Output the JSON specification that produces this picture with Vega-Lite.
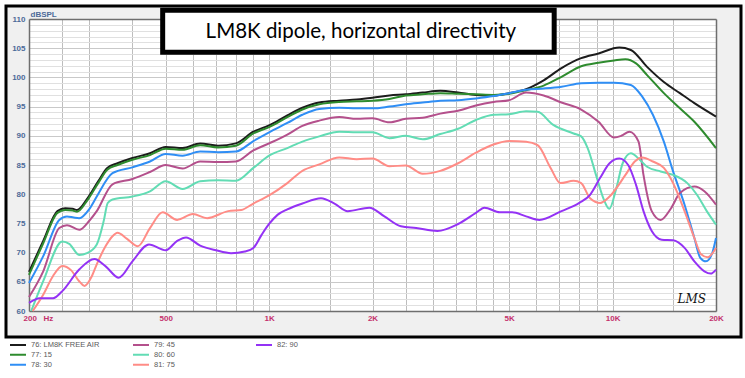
{
  "$schema": "https://vega.github.io/schema/vega-lite/v6.json",
  "background": "#ffffff",
  "padding": {"left": 4, "top": 4, "right": 3, "bottom": 3},
  "spacing": 1,
  "config": {
    "view": {"fill": "#f0f0f0", "stroke": "#000000", "strokeWidth": 3},
    "axis": {"labelFont": "Liberation Sans", "titleFont": "Liberation Sans"}
  },
  "datasets": {
    "curves": [
      {"series": "76: LM8K FREE AIR", "freq": 200, "spl": 66.7}, {"series": "76: LM8K FREE AIR", "freq": 220, "spl": 72.0}, {"series": "76: LM8K FREE AIR", "freq": 242, "spl": 77.1}, {"series": "76: LM8K FREE AIR", "freq": 255, "spl": 77.6}, {"series": "76: LM8K FREE AIR", "freq": 268, "spl": 77.5}, {"series": "76: LM8K FREE AIR", "freq": 276, "spl": 77.3}, {"series": "76: LM8K FREE AIR", "freq": 296, "spl": 79.3}, {"series": "76: LM8K FREE AIR", "freq": 318, "spl": 82.2}, {"series": "76: LM8K FREE AIR", "freq": 338, "spl": 84.5}, {"series": "76: LM8K FREE AIR", "freq": 362, "spl": 85.3}, {"series": "76: LM8K FREE AIR", "freq": 400, "spl": 86.2}, {"series": "76: LM8K FREE AIR", "freq": 450, "spl": 87.0}, {"series": "76: LM8K FREE AIR", "freq": 500, "spl": 88.1}, {"series": "76: LM8K FREE AIR", "freq": 560, "spl": 87.9}, {"series": "76: LM8K FREE AIR", "freq": 630, "spl": 88.7}, {"series": "76: LM8K FREE AIR", "freq": 710, "spl": 88.3}, {"series": "76: LM8K FREE AIR", "freq": 800, "spl": 88.7}, {"series": "76: LM8K FREE AIR", "freq": 900, "spl": 90.7}, {"series": "76: LM8K FREE AIR", "freq": 1000, "spl": 91.8}, {"series": "76: LM8K FREE AIR", "freq": 1130, "spl": 93.5}, {"series": "76: LM8K FREE AIR", "freq": 1250, "spl": 94.8}, {"series": "76: LM8K FREE AIR", "freq": 1400, "spl": 95.7}, {"series": "76: LM8K FREE AIR", "freq": 1600, "spl": 96.0}, {"series": "76: LM8K FREE AIR", "freq": 1800, "spl": 96.2}, {"series": "76: LM8K FREE AIR", "freq": 2000, "spl": 96.5}, {"series": "76: LM8K FREE AIR", "freq": 2240, "spl": 96.9}, {"series": "76: LM8K FREE AIR", "freq": 2500, "spl": 97.1}, {"series": "76: LM8K FREE AIR", "freq": 2800, "spl": 97.4}, {"series": "76: LM8K FREE AIR", "freq": 3150, "spl": 97.7}, {"series": "76: LM8K FREE AIR", "freq": 3550, "spl": 97.4}, {"series": "76: LM8K FREE AIR", "freq": 4000, "spl": 97.0}, {"series": "76: LM8K FREE AIR", "freq": 4500, "spl": 96.9}, {"series": "76: LM8K FREE AIR", "freq": 5000, "spl": 97.3}, {"series": "76: LM8K FREE AIR", "freq": 5600, "spl": 98.0}, {"series": "76: LM8K FREE AIR", "freq": 6300, "spl": 99.5}, {"series": "76: LM8K FREE AIR", "freq": 7100, "spl": 101.6}, {"series": "76: LM8K FREE AIR", "freq": 8100, "spl": 103.3}, {"series": "76: LM8K FREE AIR", "freq": 9100, "spl": 104.1}, {"series": "76: LM8K FREE AIR", "freq": 10460, "spl": 105.1}, {"series": "76: LM8K FREE AIR", "freq": 11300, "spl": 104.7}, {"series": "76: LM8K FREE AIR", "freq": 12600, "spl": 101.8}, {"series": "76: LM8K FREE AIR", "freq": 14100, "spl": 99.2}, {"series": "76: LM8K FREE AIR", "freq": 15700, "spl": 97.3}, {"series": "76: LM8K FREE AIR", "freq": 17300, "spl": 95.6}, {"series": "76: LM8K FREE AIR", "freq": 20000, "spl": 93.3},
      {"series": "77: 15", "freq": 200, "spl": 66.2}, {"series": "77: 15", "freq": 220, "spl": 71.6}, {"series": "77: 15", "freq": 242, "spl": 76.8}, {"series": "77: 15", "freq": 255, "spl": 77.3}, {"series": "77: 15", "freq": 268, "spl": 77.2}, {"series": "77: 15", "freq": 276, "spl": 77.0}, {"series": "77: 15", "freq": 296, "spl": 79.0}, {"series": "77: 15", "freq": 318, "spl": 81.9}, {"series": "77: 15", "freq": 338, "spl": 84.2}, {"series": "77: 15", "freq": 362, "spl": 85.0}, {"series": "77: 15", "freq": 400, "spl": 85.9}, {"series": "77: 15", "freq": 450, "spl": 86.7}, {"series": "77: 15", "freq": 500, "spl": 87.8}, {"series": "77: 15", "freq": 560, "spl": 87.6}, {"series": "77: 15", "freq": 630, "spl": 88.4}, {"series": "77: 15", "freq": 710, "spl": 88.0}, {"series": "77: 15", "freq": 800, "spl": 88.3}, {"series": "77: 15", "freq": 900, "spl": 90.4}, {"series": "77: 15", "freq": 1000, "spl": 91.5}, {"series": "77: 15", "freq": 1130, "spl": 93.2}, {"series": "77: 15", "freq": 1250, "spl": 94.5}, {"series": "77: 15", "freq": 1400, "spl": 95.4}, {"series": "77: 15", "freq": 1600, "spl": 95.8}, {"series": "77: 15", "freq": 1800, "spl": 95.9}, {"series": "77: 15", "freq": 2000, "spl": 96.0}, {"series": "77: 15", "freq": 2240, "spl": 96.3}, {"series": "77: 15", "freq": 2500, "spl": 96.9}, {"series": "77: 15", "freq": 2800, "spl": 97.1}, {"series": "77: 15", "freq": 3150, "spl": 97.3}, {"series": "77: 15", "freq": 3550, "spl": 97.2}, {"series": "77: 15", "freq": 4000, "spl": 97.1}, {"series": "77: 15", "freq": 4500, "spl": 97.0}, {"series": "77: 15", "freq": 5000, "spl": 97.2}, {"series": "77: 15", "freq": 5600, "spl": 97.8}, {"series": "77: 15", "freq": 6300, "spl": 98.6}, {"series": "77: 15", "freq": 7100, "spl": 100.1}, {"series": "77: 15", "freq": 8100, "spl": 101.9}, {"series": "77: 15", "freq": 9100, "spl": 102.5}, {"series": "77: 15", "freq": 10100, "spl": 102.9}, {"series": "77: 15", "freq": 10900, "spl": 103.1}, {"series": "77: 15", "freq": 11700, "spl": 102.4}, {"series": "77: 15", "freq": 12600, "spl": 100.4}, {"series": "77: 15", "freq": 14100, "spl": 97.3}, {"series": "77: 15", "freq": 15700, "spl": 94.7}, {"series": "77: 15", "freq": 17300, "spl": 92.4}, {"series": "77: 15", "freq": 20000, "spl": 87.9},
      {"series": "78: 30", "freq": 200, "spl": 64.8}, {"series": "78: 30", "freq": 220, "spl": 69.4}, {"series": "78: 30", "freq": 245, "spl": 75.6}, {"series": "78: 30", "freq": 258, "spl": 76.2}, {"series": "78: 30", "freq": 270, "spl": 76.0}, {"series": "78: 30", "freq": 280, "spl": 75.9}, {"series": "78: 30", "freq": 300, "spl": 77.5}, {"series": "78: 30", "freq": 315, "spl": 79.6}, {"series": "78: 30", "freq": 350, "spl": 83.6}, {"series": "78: 30", "freq": 400, "spl": 84.6}, {"series": "78: 30", "freq": 450, "spl": 85.6}, {"series": "78: 30", "freq": 500, "spl": 86.9}, {"series": "78: 30", "freq": 560, "spl": 86.6}, {"series": "78: 30", "freq": 630, "spl": 87.3}, {"series": "78: 30", "freq": 710, "spl": 87.2}, {"series": "78: 30", "freq": 800, "spl": 87.3}, {"series": "78: 30", "freq": 900, "spl": 89.1}, {"series": "78: 30", "freq": 1000, "spl": 90.6}, {"series": "78: 30", "freq": 1130, "spl": 92.2}, {"series": "78: 30", "freq": 1250, "spl": 93.6}, {"series": "78: 30", "freq": 1400, "spl": 94.6}, {"series": "78: 30", "freq": 1600, "spl": 94.8}, {"series": "78: 30", "freq": 1800, "spl": 94.7}, {"series": "78: 30", "freq": 2000, "spl": 94.7}, {"series": "78: 30", "freq": 2240, "spl": 95.0}, {"series": "78: 30", "freq": 2500, "spl": 95.4}, {"series": "78: 30", "freq": 2800, "spl": 95.7}, {"series": "78: 30", "freq": 3150, "spl": 96.0}, {"series": "78: 30", "freq": 3550, "spl": 96.1}, {"series": "78: 30", "freq": 4000, "spl": 96.4}, {"series": "78: 30", "freq": 4500, "spl": 96.8}, {"series": "78: 30", "freq": 5000, "spl": 97.3}, {"series": "78: 30", "freq": 5600, "spl": 97.9}, {"series": "78: 30", "freq": 6300, "spl": 98.1}, {"series": "78: 30", "freq": 7100, "spl": 98.4}, {"series": "78: 30", "freq": 8100, "spl": 99.0}, {"series": "78: 30", "freq": 9100, "spl": 99.1}, {"series": "78: 30", "freq": 10100, "spl": 99.1}, {"series": "78: 30", "freq": 11300, "spl": 98.7}, {"series": "78: 30", "freq": 12200, "spl": 96.7}, {"series": "78: 30", "freq": 13100, "spl": 93.6}, {"series": "78: 30", "freq": 14100, "spl": 89.0}, {"series": "78: 30", "freq": 15000, "spl": 83.9}, {"series": "78: 30", "freq": 16200, "spl": 78.2}, {"series": "78: 30", "freq": 17300, "spl": 72.5}, {"series": "78: 30", "freq": 18000, "spl": 69.1}, {"series": "78: 30", "freq": 18700, "spl": 68.5}, {"series": "78: 30", "freq": 19500, "spl": 69.9}, {"series": "78: 30", "freq": 20000, "spl": 72.5},
      {"series": "79: 45", "freq": 200, "spl": 62.4}, {"series": "79: 45", "freq": 220, "spl": 66.8}, {"series": "79: 45", "freq": 245, "spl": 74.2}, {"series": "79: 45", "freq": 258, "spl": 74.7}, {"series": "79: 45", "freq": 280, "spl": 73.9}, {"series": "79: 45", "freq": 300, "spl": 75.5}, {"series": "79: 45", "freq": 315, "spl": 77.1}, {"series": "79: 45", "freq": 350, "spl": 81.7}, {"series": "79: 45", "freq": 400, "spl": 82.6}, {"series": "79: 45", "freq": 450, "spl": 83.8}, {"series": "79: 45", "freq": 500, "spl": 85.0}, {"series": "79: 45", "freq": 560, "spl": 84.4}, {"series": "79: 45", "freq": 630, "spl": 85.6}, {"series": "79: 45", "freq": 710, "spl": 85.5}, {"series": "79: 45", "freq": 800, "spl": 85.6}, {"series": "79: 45", "freq": 900, "spl": 87.5}, {"series": "79: 45", "freq": 1000, "spl": 88.7}, {"series": "79: 45", "freq": 1130, "spl": 90.2}, {"series": "79: 45", "freq": 1250, "spl": 91.7}, {"series": "79: 45", "freq": 1400, "spl": 92.6}, {"series": "79: 45", "freq": 1600, "spl": 93.2}, {"series": "79: 45", "freq": 1800, "spl": 92.9}, {"series": "79: 45", "freq": 2000, "spl": 93.0}, {"series": "79: 45", "freq": 2240, "spl": 92.3}, {"series": "79: 45", "freq": 2500, "spl": 92.9}, {"series": "79: 45", "freq": 2800, "spl": 93.1}, {"series": "79: 45", "freq": 3150, "spl": 93.8}, {"series": "79: 45", "freq": 3550, "spl": 94.3}, {"series": "79: 45", "freq": 4000, "spl": 95.2}, {"series": "79: 45", "freq": 4500, "spl": 95.8}, {"series": "79: 45", "freq": 5000, "spl": 96.1}, {"series": "79: 45", "freq": 5600, "spl": 97.4}, {"series": "79: 45", "freq": 6300, "spl": 96.9}, {"series": "79: 45", "freq": 7100, "spl": 95.7}, {"series": "79: 45", "freq": 8100, "spl": 94.5}, {"series": "79: 45", "freq": 9100, "spl": 92.4}, {"series": "79: 45", "freq": 10100, "spl": 89.7}, {"series": "79: 45", "freq": 10600, "spl": 90.0}, {"series": "79: 45", "freq": 11200, "spl": 90.7}, {"series": "79: 45", "freq": 11900, "spl": 89.0}, {"series": "79: 45", "freq": 12300, "spl": 83.3}, {"series": "79: 45", "freq": 13000, "spl": 77.1}, {"series": "79: 45", "freq": 13800, "spl": 75.6}, {"series": "79: 45", "freq": 14800, "spl": 77.6}, {"series": "79: 45", "freq": 15700, "spl": 80.2}, {"series": "79: 45", "freq": 17300, "spl": 81.3}, {"series": "79: 45", "freq": 18500, "spl": 80.5}, {"series": "79: 45", "freq": 20000, "spl": 78.2},
      {"series": "80: 60", "freq": 203, "spl": 60.0}, {"series": "80: 60", "freq": 220, "spl": 65.1}, {"series": "80: 60", "freq": 250, "spl": 71.9}, {"series": "80: 60", "freq": 262, "spl": 71.5}, {"series": "80: 60", "freq": 280, "spl": 69.6}, {"series": "80: 60", "freq": 295, "spl": 69.9}, {"series": "80: 60", "freq": 315, "spl": 71.4}, {"series": "80: 60", "freq": 330, "spl": 75.4}, {"series": "80: 60", "freq": 339, "spl": 78.5}, {"series": "80: 60", "freq": 350, "spl": 79.1}, {"series": "80: 60", "freq": 400, "spl": 79.6}, {"series": "80: 60", "freq": 450, "spl": 80.5}, {"series": "80: 60", "freq": 500, "spl": 82.2}, {"series": "80: 60", "freq": 560, "spl": 80.9}, {"series": "80: 60", "freq": 630, "spl": 82.2}, {"series": "80: 60", "freq": 710, "spl": 82.4}, {"series": "80: 60", "freq": 800, "spl": 82.3}, {"series": "80: 60", "freq": 900, "spl": 84.5}, {"series": "80: 60", "freq": 1000, "spl": 86.6}, {"series": "80: 60", "freq": 1130, "spl": 87.9}, {"series": "80: 60", "freq": 1250, "spl": 89.0}, {"series": "80: 60", "freq": 1400, "spl": 89.9}, {"series": "80: 60", "freq": 1600, "spl": 90.7}, {"series": "80: 60", "freq": 1800, "spl": 90.6}, {"series": "80: 60", "freq": 2000, "spl": 90.6}, {"series": "80: 60", "freq": 2240, "spl": 89.6}, {"series": "80: 60", "freq": 2500, "spl": 90.0}, {"series": "80: 60", "freq": 2800, "spl": 89.4}, {"series": "80: 60", "freq": 3150, "spl": 90.3}, {"series": "80: 60", "freq": 3550, "spl": 91.2}, {"series": "80: 60", "freq": 4000, "spl": 92.7}, {"series": "80: 60", "freq": 4500, "spl": 93.6}, {"series": "80: 60", "freq": 5000, "spl": 93.7}, {"series": "80: 60", "freq": 5600, "spl": 94.2}, {"series": "80: 60", "freq": 6050, "spl": 94.1}, {"series": "80: 60", "freq": 6700, "spl": 91.9}, {"series": "80: 60", "freq": 7700, "spl": 90.4}, {"series": "80: 60", "freq": 8100, "spl": 89.9}, {"series": "80: 60", "freq": 8460, "spl": 87.9}, {"series": "80: 60", "freq": 9000, "spl": 82.8}, {"series": "80: 60", "freq": 9400, "spl": 79.3}, {"series": "80: 60", "freq": 9780, "spl": 77.5}, {"series": "80: 60", "freq": 10250, "spl": 81.0}, {"series": "80: 60", "freq": 10700, "spl": 85.3}, {"series": "80: 60", "freq": 11300, "spl": 87.0}, {"series": "80: 60", "freq": 12000, "spl": 85.9}, {"series": "80: 60", "freq": 12600, "spl": 84.7}, {"series": "80: 60", "freq": 13800, "spl": 83.9}, {"series": "80: 60", "freq": 15000, "spl": 83.3}, {"series": "80: 60", "freq": 16500, "spl": 81.9}, {"series": "80: 60", "freq": 17600, "spl": 79.9}, {"series": "80: 60", "freq": 18800, "spl": 77.1}, {"series": "80: 60", "freq": 20000, "spl": 74.8},
      {"series": "81: 75", "freq": 205, "spl": 60.0}, {"series": "81: 75", "freq": 220, "spl": 62.8}, {"series": "81: 75", "freq": 235, "spl": 66.0}, {"series": "81: 75", "freq": 250, "spl": 67.7}, {"series": "81: 75", "freq": 265, "spl": 67.0}, {"series": "81: 75", "freq": 280, "spl": 65.1}, {"series": "81: 75", "freq": 290, "spl": 64.3}, {"series": "81: 75", "freq": 305, "spl": 66.0}, {"series": "81: 75", "freq": 315, "spl": 68.0}, {"series": "81: 75", "freq": 335, "spl": 71.2}, {"series": "81: 75", "freq": 350, "spl": 72.8}, {"series": "81: 75", "freq": 362, "spl": 73.4}, {"series": "81: 75", "freq": 385, "spl": 72.4}, {"series": "81: 75", "freq": 415, "spl": 71.1}, {"series": "81: 75", "freq": 450, "spl": 74.2}, {"series": "81: 75", "freq": 490, "spl": 76.9}, {"series": "81: 75", "freq": 540, "spl": 75.6}, {"series": "81: 75", "freq": 600, "spl": 76.6}, {"series": "81: 75", "freq": 660, "spl": 75.9}, {"series": "81: 75", "freq": 760, "spl": 77.1}, {"series": "81: 75", "freq": 830, "spl": 77.3}, {"series": "81: 75", "freq": 900, "spl": 78.4}, {"series": "81: 75", "freq": 1000, "spl": 79.8}, {"series": "81: 75", "freq": 1130, "spl": 81.9}, {"series": "81: 75", "freq": 1250, "spl": 84.0}, {"series": "81: 75", "freq": 1400, "spl": 85.1}, {"series": "81: 75", "freq": 1600, "spl": 86.3}, {"series": "81: 75", "freq": 1800, "spl": 86.0}, {"series": "81: 75", "freq": 2000, "spl": 86.1}, {"series": "81: 75", "freq": 2240, "spl": 84.8}, {"series": "81: 75", "freq": 2500, "spl": 84.9}, {"series": "81: 75", "freq": 2800, "spl": 83.5}, {"series": "81: 75", "freq": 3150, "spl": 84.0}, {"series": "81: 75", "freq": 3550, "spl": 85.3}, {"series": "81: 75", "freq": 4000, "spl": 87.1}, {"series": "81: 75", "freq": 4500, "spl": 88.5}, {"series": "81: 75", "freq": 5000, "spl": 89.1}, {"series": "81: 75", "freq": 5600, "spl": 89.0}, {"series": "81: 75", "freq": 6050, "spl": 88.4}, {"series": "81: 75", "freq": 6600, "spl": 84.5}, {"series": "81: 75", "freq": 7050, "spl": 81.9}, {"series": "81: 75", "freq": 7700, "spl": 82.3}, {"series": "81: 75", "freq": 8100, "spl": 81.9}, {"series": "81: 75", "freq": 8600, "spl": 79.3}, {"series": "81: 75", "freq": 9200, "spl": 78.5}, {"series": "81: 75", "freq": 9800, "spl": 79.6}, {"series": "81: 75", "freq": 10900, "spl": 83.3}, {"series": "81: 75", "freq": 11600, "spl": 85.6}, {"series": "81: 75", "freq": 12200, "spl": 86.3}, {"series": "81: 75", "freq": 13100, "spl": 85.6}, {"series": "81: 75", "freq": 14100, "spl": 84.5}, {"series": "81: 75", "freq": 15000, "spl": 81.9}, {"series": "81: 75", "freq": 16200, "spl": 77.1}, {"series": "81: 75", "freq": 17300, "spl": 72.5}, {"series": "81: 75", "freq": 18100, "spl": 69.7}, {"series": "81: 75", "freq": 18900, "spl": 69.2}, {"series": "81: 75", "freq": 20000, "spl": 70.8},
      {"series": "82: 90", "freq": 200, "spl": 61.4}, {"series": "82: 90", "freq": 215, "spl": 62.2}, {"series": "82: 90", "freq": 235, "spl": 62.2}, {"series": "82: 90", "freq": 250, "spl": 63.4}, {"series": "82: 90", "freq": 280, "spl": 67.1}, {"series": "82: 90", "freq": 310, "spl": 68.9}, {"series": "82: 90", "freq": 335, "spl": 67.6}, {"series": "82: 90", "freq": 365, "spl": 65.7}, {"series": "82: 90", "freq": 400, "spl": 68.5}, {"series": "82: 90", "freq": 447, "spl": 71.4}, {"series": "82: 90", "freq": 500, "spl": 70.4}, {"series": "82: 90", "freq": 540, "spl": 72.0}, {"series": "82: 90", "freq": 573, "spl": 72.6}, {"series": "82: 90", "freq": 630, "spl": 71.2}, {"series": "82: 90", "freq": 700, "spl": 70.4}, {"series": "82: 90", "freq": 775, "spl": 69.9}, {"series": "82: 90", "freq": 850, "spl": 70.2}, {"series": "82: 90", "freq": 900, "spl": 70.8}, {"series": "82: 90", "freq": 950, "spl": 73.0}, {"series": "82: 90", "freq": 1000, "spl": 74.9}, {"series": "82: 90", "freq": 1060, "spl": 76.5}, {"series": "82: 90", "freq": 1130, "spl": 77.4}, {"series": "82: 90", "freq": 1250, "spl": 78.4}, {"series": "82: 90", "freq": 1416, "spl": 79.3}, {"series": "82: 90", "freq": 1550, "spl": 78.4}, {"series": "82: 90", "freq": 1694, "spl": 77.1}, {"series": "82: 90", "freq": 1957, "spl": 77.7}, {"series": "82: 90", "freq": 2166, "spl": 76.2}, {"series": "82: 90", "freq": 2420, "spl": 74.5}, {"series": "82: 90", "freq": 2680, "spl": 74.2}, {"series": "82: 90", "freq": 3090, "spl": 73.7}, {"series": "82: 90", "freq": 3550, "spl": 74.9}, {"series": "82: 90", "freq": 4000, "spl": 76.8}, {"series": "82: 90", "freq": 4235, "spl": 77.7}, {"series": "82: 90", "freq": 4700, "spl": 76.9}, {"series": "82: 90", "freq": 5100, "spl": 76.9}, {"series": "82: 90", "freq": 5600, "spl": 76.2}, {"series": "82: 90", "freq": 6120, "spl": 75.6}, {"series": "82: 90", "freq": 7100, "spl": 77.1}, {"series": "82: 90", "freq": 8000, "spl": 78.5}, {"series": "82: 90", "freq": 8600, "spl": 79.9}, {"series": "82: 90", "freq": 9200, "spl": 82.8}, {"series": "82: 90", "freq": 9800, "spl": 85.3}, {"series": "82: 90", "freq": 10460, "spl": 86.1}, {"series": "82: 90", "freq": 11100, "spl": 85.0}, {"series": "82: 90", "freq": 11700, "spl": 81.6}, {"series": "82: 90", "freq": 12300, "spl": 77.1}, {"series": "82: 90", "freq": 13000, "spl": 73.7}, {"series": "82: 90", "freq": 13900, "spl": 72.2}, {"series": "82: 90", "freq": 15000, "spl": 72.1}, {"series": "82: 90", "freq": 16200, "spl": 70.8}, {"series": "82: 90", "freq": 17300, "spl": 68.5}, {"series": "82: 90", "freq": 18500, "spl": 66.8}, {"series": "82: 90", "freq": 19300, "spl": 66.4}, {"series": "82: 90", "freq": 20000, "spl": 67.1}
    ]
  },
  "vconcat": [
    {
      "width": 735,
      "height": 331,
      "resolve": {"axis": {"x": "independent", "y": "independent"}},
      "layer": [
        {
          "data": {"values": [{}]},
          "mark": {"type": "rect", "fill": "#ffffff", "stroke": "#000000", "strokeWidth": 5},
          "encoding": {
            "x": {
              "datum": 490, "type": "quantitative",
              "scale": {"type": "log", "domain": [200, 20000], "range": [23, 710], "nice": false},
              "axis": {"orient": "top", "values": [2000], "grid": true, "gridColor": "#ffffff", "gridWidth": 687, "gridOpacity": 1, "domain": false, "ticks": false, "labels": false, "title": null}
            },
            "x2": {"datum": 6760},
            "y": {
              "datum": 111.5, "type": "quantitative",
              "scale": {"domain": [60, 110], "range": [305, 13], "nice": false, "zero": false},
              "axis": {"orient": "right", "offset": -25, "grid": false, "domain": true, "domainColor": "#6e6e6e", "domainWidth": 1.5, "ticks": false, "labels": false, "title": null}
            },
            "y2": {"datum": 104.3}
          }
        },
        {
          "data": {"values": [{}]},
          "mark": {"type": "text", "text": "LM8K dipole, horizontal directivity", "font": "Lato", "fontSize": 20.5, "color": "#000000", "align": "center", "baseline": "alphabetic"},
          "encoding": {
            "x": {
              "datum": 1850, "type": "quantitative",
              "axis": {"orient": "top", "offset": -13, "values": [250, 300, 400, 500, 600, 700, 800, 900, 1000, 1500, 2000, 2500, 3000, 3500, 4000, 4500, 5000, 6000, 7000, 8000, 9000, 10000, 15000], "grid": true, "gridColor": "#bdbdbd", "gridWidth": 1, "domain": true, "domainColor": "#6e6e6e", "domainWidth": 1.5, "ticks": false, "labels": false, "title": null}
            },
            "y": {"datum": 106.8, "type": "quantitative", "axis": null}
          }
        },
        {
          "data": {"name": "curves"},
          "mark": {"type": "line", "strokeWidth": 2, "interpolate": "monotone"},
          "encoding": {
            "x": {
              "field": "freq", "type": "quantitative",
              "scale": {"type": "log", "domain": [200, 20000], "range": [23, 710], "nice": false},
              "axis": {
                "orient": "bottom", "offset": -26, "values": [200, 500, 1000, 2000, 5000, 10000, 20000],
                "labelExpr": "datum.value == 200 ? '200\u00a0\u00a0\u00a0Hz' : (datum.value >= 1000 ? (datum.value / 1000) + 'K' : datum.label)",
                "labelAlign": {"condition": {"test": "datum.value == 200", "value": "left"}, "value": "center"},
                "labelOffset": {"condition": {"test": "datum.value == 200", "value": -6}, "value": 0},
                "grid": false, "domain": true, "domainColor": "#6e6e6e", "domainWidth": 1.5, "ticks": false,
                "labelColor": "#c4306c", "labelFontSize": 8, "labelFontWeight": "bold", "labelPadding": 3,
                "labelOverlap": false, "labelFlush": false, "title": null
              }
            },
            "y": {
              "field": "spl", "type": "quantitative",
              "scale": {"domain": [60, 110], "range": [305, 13], "nice": false, "zero": false},
              "axis": {
                "orient": "left", "offset": -23,
                "values": [60, 61, 62, 63, 64, 65, 66, 67, 68, 69, 70, 71, 72, 73, 74, 75, 76, 77, 78, 79, 80, 81, 82, 83, 84, 85, 86, 87, 88, 89, 90, 91, 92, 93, 94, 95, 96, 97, 98, 99, 100, 101, 102, 103, 104, 105, 106, 107, 108, 109, 110],
                "grid": true,
                "gridColor": {"condition": {"test": "datum.value % 5 === 0", "value": "#c9c9c9"}, "value": "#e0e0e0"},
                "gridWidth": 1, "domain": true, "domainColor": "#6e6e6e", "domainWidth": 1.5, "ticks": false,
                "labelExpr": "datum.value % 5 === 0 ? datum.label : ''",
                "labelColor": "#4c6a98", "labelFontSize": 8, "labelFontWeight": "bold", "labelPadding": 4, "labelOverlap": false,
                "title": "dBSPL", "titleAngle": 0, "titleAlign": "left", "titleBaseline": "alphabetic", "titleX": 1, "titleY": 10,
                "titleFontSize": 8, "titleFontWeight": "bold", "titleColor": "#4c6a98"
              }
            },
            "color": {
              "field": "series", "type": "nominal",
              "scale": {
                "domain": ["76: LM8K FREE AIR", "77: 15", "78: 30", "79: 45", "80: 60", "81: 75", "82: 90", ""],
                "range": ["#1c1c1c", "#2e8b2e", "#2f8ef5", "#b4508c", "#62dcb4", "#ff8c86", "#9432f5", "rgba(0,0,0,0)"]
              },
              "legend": {
                "orient": "none", "legendX": 3, "legendY": 334, "direction": "vertical", "columns": 3, "gridAlign": "all",
                "columnPadding": 32, "rowPadding": 0, "clipHeight": 9.5, "symbolType": "stroke", "symbolSize": 256, "symbolStrokeWidth": 2,
                "labelFont": "Liberation Sans", "labelFontSize": 7.5, "labelColor": "#5a5a5a", "labelOffset": 4, "title": null, "padding": 0
              }
            }
          }
        },
        {
          "data": {"values": [{}]},
          "mark": {"type": "text", "text": "LMS", "font": "DejaVu Serif", "fontStyle": "italic", "fontSize": 12, "color": "#111111", "align": "center", "baseline": "middle"},
          "encoding": {
            "x": {"datum": 17000, "type": "quantitative", "axis": null},
            "y": {"datum": 62.1, "type": "quantitative", "axis": null}
          }
        }
      ]
    },
    {
      "width": 735,
      "height": 36,
      "data": {"values": []},
      "mark": "point"
    }
  ]
}
